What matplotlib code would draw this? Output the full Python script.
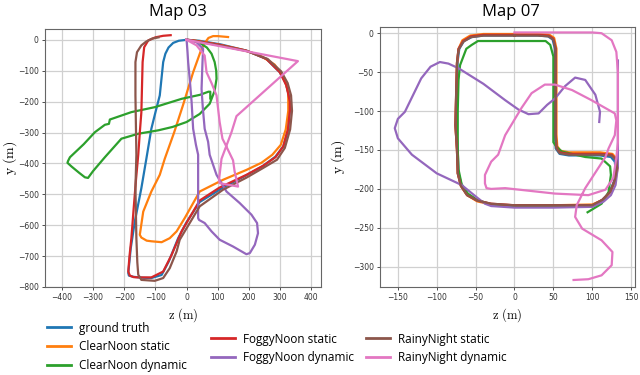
import matplotlib
matplotlib.use("Agg")
import matplotlib.pyplot as plt
from matplotlib.lines import Line2D

plt.rcParams['mathtext.fontset'] = 'cm'

# ---------------- Map 03 ----------------
m03_gt_z = [0, -25, -43, -58, -68, -75, -86, -100, -113, -129, -145, -166, -179, -187, -185, -171, -140, -113, -80, -57, -27, 0, 42, 117, 192, 245, 285, 310, 326, 331, 328, 318, 299, 256, 192, 110, 40, 0]
m03_gt_y = [0, -3, -10, -25, -45, -72, -180, -235, -288, -385, -480, -588, -674, -755, -763, -767, -770, -771, -761, -717, -642, -590, -525, -478, -438, -408, -378, -345, -290, -230, -180, -140, -105, -62, -35, -15, -3, 0]

m03_cs_z = [133, 100, 85, 70, 60, 48, 21, -11, -40, -70, -86, -113, -139, -150, -145, -128, -113, -80, -54, -32, -6, 42, 117, 192, 240, 275, 302, 318, 326, 326, 312, 282, 235, 182, 100, 30, 5]
m03_cs_y = [9, 12, 12, 6, -8, -29, -105, -210, -300, -385, -437, -491, -556, -631, -640, -650, -652, -655, -642, -620, -577, -491, -453, -421, -398, -372, -340, -290, -230, -170, -120, -80, -50, -33, -15, -3, 0]

m03_cd_z = [45, 65, 80, 90, 95, 96, 90, 74, 42, 0, -45, -91, -155, -209, -262, -300, -316, -326, -345, -369, -382, -380, -374, -330, -294, -262, -249, -246, -177, -102, -16, 43, 70, 76, 76]
m03_cd_y = [-12, -25, -45, -72, -100, -126, -165, -207, -240, -266, -282, -293, -304, -320, -380, -425, -447, -445, -430, -410, -398, -392, -380, -338, -299, -275, -272, -258, -234, -218, -191, -178, -168, -168, -190]

m03_fs_z = [-51, -75, -100, -123, -136, -141, -145, -150, -155, -162, -170, -177, -183, -187, -182, -170, -155, -113, -75, -48, -16, 10, 42, 106, 192, 245, 285, 310, 325, 331, 331, 320, 299, 256, 192, 100, 20, 0]
m03_fs_y = [15, 13, 8, -2, -24, -72, -234, -300, -372, -450, -550, -642, -700, -750, -763, -768, -769, -769, -750, -696, -620, -575, -520, -478, -437, -408, -380, -345, -290, -230, -200, -148, -105, -62, -35, -15, -2, 0]

m03_fd_z = [0, 3, 5, 10, 16, 21, 30, 37, 37, 37, 40, 58, 80, 106, 149, 192, 203, 219, 229, 226, 208, 170, 128, 96, 74, 69, 58, 52, 48, 51, 53, 32, 5]
m03_fd_y = [0, -40, -72, -126, -200, -288, -340, -372, -450, -577, -583, -593, -620, -647, -669, -694, -690, -663, -626, -593, -566, -528, -491, -437, -372, -330, -288, -220, -159, -72, -29, -8, 0]

m03_rs_z = [-90, -110, -130, -145, -159, -164, -164, -161, -164, -161, -158, -155, -145, -102, -75, -54, -32, -22, 42, 117, 192, 245, 290, 315, 332, 338, 335, 324, 303, 260, 195, 100, 20, 0]
m03_rs_y = [8, 4, -6, -18, -40, -72, -180, -372, -480, -642, -720, -760, -777, -780, -771, -739, -685, -647, -539, -485, -446, -415, -388, -350, -290, -230, -180, -140, -102, -62, -37, -17, -3, 0]

m03_rd_z = [0, 357, 160, 144, 128, 112, 104, 106, 165, 154, 149, 125, 115, 106, 96, 80, 64, 58, 32, 0]
m03_rd_y = [0, -69, -247, -299, -342, -385, -453, -464, -475, -426, -390, -340, -320, -266, -180, -140, -105, -51, -18, 0]

# ---------------- Map 07 ----------------
m07_gt_z = [0, -40, -55, -65, -71, -73, -74, -75, -73, -72, -68, -60, -48, -30, 0, 50, 100, 112, 122, 128, 130, 129, 124, 110, 70, 58, 53, 52, 52, 52, 49, 43, 30, 0]
m07_gt_y = [-3, -3, -5, -10, -20, -35, -70, -118, -150, -180, -195, -207, -215, -220, -223, -223, -222, -215, -205, -190, -175, -165, -159, -157, -157, -155, -148, -130, -60, -20, -8, -4, -3, -3]

m07_cs_z = [0, -40, -57, -67, -72, -74, -75, -76, -74, -73, -69, -61, -48, -30, 0, 50, 100, 114, 124, 130, 133, 132, 126, 110, 70, 59, 55, 54, 54, 54, 51, 45, 30, 0]
m07_cs_y = [-1, -1, -3, -9, -20, -40, -80, -118, -150, -180, -196, -208, -216, -220, -221, -221, -220, -214, -203, -188, -172, -162, -155, -153, -153, -151, -145, -130, -60, -20, -6, -2, -1, -1]

m07_cd_z = [100, 50, 0, -30, -48, -60, -68, -72, -73, -73, -72, -70, -62, -55, -47, 0, 40, 46, 50, 50, 50, 54, 61, 91, 112, 123, 124, 121, 112, 99, 94]
m07_cd_y = [-222, -222, -222, -220, -214, -206, -194, -175, -150, -100, -60, -41, -20, -15, -10, -10, -10, -15, -30, -100, -140, -146, -152, -159, -161, -171, -182, -204, -219, -227, -230]

m07_fs_z = [0, -40, -56, -66, -72, -74, -75, -76, -74, -73, -69, -61, -48, -30, 0, 50, 100, 113, 123, 129, 132, 131, 125, 110, 70, 58, 54, 53, 53, 53, 50, 44, 30, 0]
m07_fs_y = [-2, -2, -4, -10, -20, -38, -75, -118, -150, -180, -196, -208, -215, -219, -221, -221, -221, -214, -204, -189, -173, -163, -156, -155, -155, -153, -147, -130, -60, -20, -7, -3, -2, -2]

m07_fd_z = [133, 133, 133, 130, 124, 115, 100, 50, 0, -30, -38, -47, -68, -100, -132, -150, -154, -150, -141, -120, -108, -96, -85, -72, -40, -12, 5, 18, 31, 42, 52, 65, 78, 91, 104, 110, 109]
m07_fd_y = [-35, -100, -171, -195, -208, -216, -223, -224, -224, -222, -219, -212, -195, -180, -156, -135, -122, -110, -101, -58, -43, -37, -39, -45, -65, -86, -98, -104, -103, -92, -84, -68, -57, -60, -79, -101, -114]

m07_rs_z = [0, -40, -56, -66, -72, -74, -75, -76, -74, -73, -69, -61, -48, -30, 0, 50, 100, 113, 123, 129, 132, 131, 125, 110, 70, 58, 54, 53, 53, 53, 50, 44, 30, 0]
m07_rs_y = [-3, -3, -5, -11, -21, -38, -75, -118, -150, -180, -196, -208, -215, -219, -221, -221, -221, -214, -204, -189, -173, -163, -157, -156, -156, -154, -148, -130, -60, -20, -8, -4, -3, -3]

m07_rd_z = [0, 50, 100, 112, 125, 131, 133, 133, 133, 131, 127, 117, 95, 52, -12, -30, -36, -38, -38, -30, -21, -12, 9, 22, 39, 52, 74, 99, 129, 131, 129, 121, 117, 91, 80, 78, 87, 112, 126, 125, 112, 95, 76]
m07_rd_y = [1, 1, 1, 0, -9, -24, -50, -100, -140, -160, -186, -201, -208, -206, -199, -200, -199, -193, -182, -165, -156, -131, -96, -77, -66, -66, -73, -86, -103, -112, -131, -148, -159, -199, -221, -236, -251, -266, -281, -298, -311, -316, -317]

labels = ["ground truth", "ClearNoon static", "ClearNoon dynamic",
          "FoggyNoon static", "FoggyNoon dynamic",
          "RainyNight static", "RainyNight dynamic"]
colors = ['#1f77b4', '#ff7f0e', '#2ca02c', '#d62728', '#9467bd', '#8c564b', '#e377c2']

m03 = [(m03_gt_z, m03_gt_y), (m03_cs_z, m03_cs_y), (m03_cd_z, m03_cd_y),
       (m03_fs_z, m03_fs_y), (m03_fd_z, m03_fd_y), (m03_rs_z, m03_rs_y), (m03_rd_z, m03_rd_y)]
m07 = [(m07_gt_z, m07_gt_y), (m07_cs_z, m07_cs_y), (m07_cd_z, m07_cd_y),
       (m07_fs_z, m07_fs_y), (m07_fd_z, m07_fd_y), (m07_rs_z, m07_rs_y), (m07_rd_z, m07_rd_y)]

fig = plt.figure(figsize=(6.4, 3.75), dpi=100)
ax1 = fig.add_axes([45/640, 88/375, 276/640, 258/375])
ax2 = fig.add_axes([380/640, 88/375, 255/640, 260/375])


def style(ax, xlim, ylim, xt, yt, title, tx, ylab_x):
    ax.set_xlim(*xlim)
    ax.set_ylim(*ylim)
    ax.set_xticks(xt)
    ax.set_yticks(yt)
    ax.grid(True, color='#d0d0d0', lw=0.9)
    ax.set_axisbelow(True)
    ax.tick_params(labelsize=5.5, length=2.5, width=0.6, pad=2, colors='#333333')
    for s in ax.spines.values():
        s.set_color('#666666')
        s.set_linewidth(0.8)
    ax.set_xlabel(r'$\mathrm{z\ (m)}$', fontsize=9, labelpad=3)
    ax.set_ylabel(r'$\mathrm{y\ (m)}$', fontsize=10)
    ax.yaxis.set_label_coords(ylab_x, 0.5)
    fig.text(tx, 1 - 12/375, title, fontsize=12, family='Open Sans', ha='center', va='center')


for (z, y), c in zip(m03, colors):
    ax1.plot(z, y, color=c, lw=1.6)
for (z, y), c in zip(m07, colors):
    ax2.plot(z, y, color=c, lw=1.6)

style(ax1, (-454, 431), (-800, 35), range(-400, 401, 100), range(-800, 1, 100), "Map 03", 178/640, -0.094)
style(ax2, (-173, 155), (-326, 8), range(-150, 151, 50), range(-300, 1, 50), "Map 07", 511/640, -0.128)

handles = [Line2D([], [], color=c, lw=2) for c in colors]
groups = [([0, 1, 2], 47, 347), ([3, 4], 211, 348.5), ([5, 6], 366, 348.5)]
for idx, x0, yc in groups:
    leg = fig.legend([handles[i] for i in idx], [labels[i] for i in idx],
                     loc='center left', bbox_to_anchor=(x0/640, 1 - yc/375),
                     frameon=False, borderpad=0, borderaxespad=0,
                     handlelength=2.0, handletextpad=0.7, labelspacing=0.5,
                     prop={'family': 'Open Sans', 'size': 8.5})

fig.savefig("out.png", dpi=100)
